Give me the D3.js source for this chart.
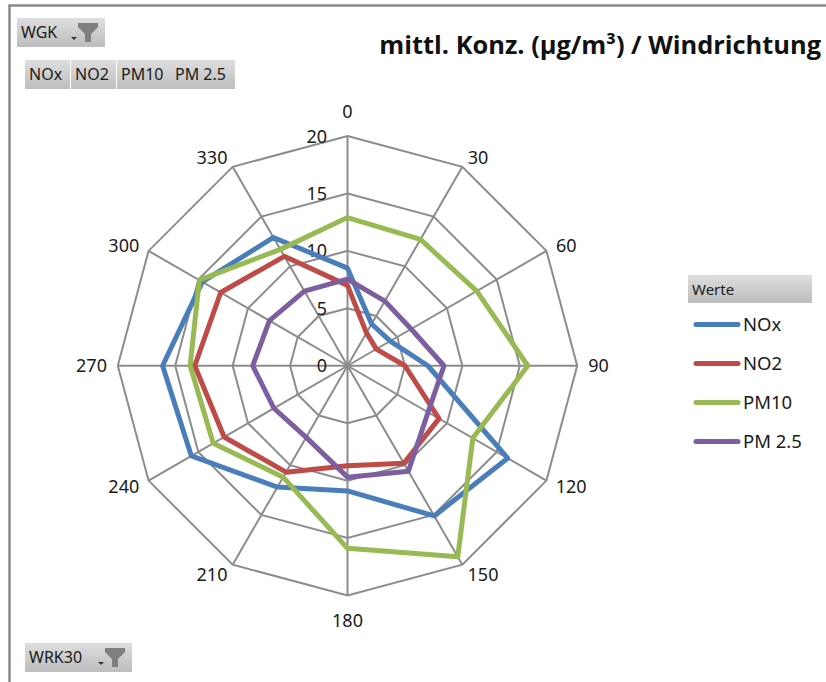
<!DOCTYPE html>
<html><head><meta charset="utf-8">
<script src="https://cdnjs.cloudflare.com/ajax/libs/d3/7.8.5/d3.min.js"></script>
<style>html,body{margin:0;padding:0;background:#fff}svg{display:block}text{font-family:"Noto Sans","Open Sans",sans-serif;fill:#1a1a1a}</style>
</head><body><div id="c"></div>
<script>
const directions=[0,30,60,90,120,150,180,210,240,270,300,330];
const radialTicks=[0,5,10,15,20];
const seriesNames=["NOx","NO2","PM10","PM 2.5"];
const colors=["#4a7ebb","#be4b48","#98b954","#7d5fa0"];
const NOx=[8.5,4.2,4.3,7.0,16.1,15.1,10.9,12.2,15.7,16.1,14.6,12.9];
const NO2=[7,3.3,2.9,5,9.2,9.8,8.7,10.7,12.4,13.3,12.75,11];
const PM10=[12.9,12.7,13,15.7,12.6,19.2,15.9,11.2,13.5,13.7,14.9,11.7];
const PM25=[7.55,6.5,6.4,8.4,8.1,10.6,9.7,7.2,7.4,8.25,7.85,7.5];
const seriesValues=[NOx,NO2,PM10,PM25];
const filterTop=["NOx","NO2","PM10","PM 2.5"];

const W=826,H=682,cx=347.5,cy=365.75,R=229.7;
const svg=d3.select("#c").append("svg").attr("width",W).attr("height",H);
const defs=svg.append("defs");
const g=defs.append("linearGradient").attr("id","btn").attr("x1",0).attr("y1",0).attr("x2",0).attr("y2",1);
g.append("stop").attr("offset","0").attr("stop-color","#dedede");
g.append("stop").attr("offset","1").attr("stop-color","#bdbdbd");

// frame
svg.append("path").attr("d",`M9.5,${H}V5.5H${W}`).attr("fill","none").attr("stroke","#8a8a8a").attr("stroke-width",2.5);

const r=d3.scaleLinear().domain([0,20]).range([0,R]);
const ang=d3.scaleLinear().domain([0,360]).range([0,2*Math.PI]);
const plot=svg.append("g").attr("transform",`translate(${cx},${cy})`);
const pt=(d,v)=>[r(v)*Math.sin(ang(d)),-r(v)*Math.cos(ang(d))];

// rings
const ringLine=d3.lineRadial().angle(d=>ang(d)).curve(d3.curveLinearClosed);
radialTicks.slice(1).forEach(t=>{
  plot.append("path").attr("d",ringLine.radius(()=>r(t))(directions)).attr("fill","none").attr("stroke","#8c8c8c").attr("stroke-width",2);
});
// spokes
plot.selectAll("line.spoke").data(directions).join("line").attr("class","spoke")
  .attr("x1",0).attr("y1",0)
  .attr("x2",d=>pt(d,20)[0]).attr("y2",d=>pt(d,20)[1])
  .attr("stroke","#8c8c8c").attr("stroke-width",2);

// radial tick labels
plot.selectAll("text.rt").data(radialTicks).join("text").attr("class","rt")
  .attr("x",-20.5).attr("y",d=>-r(d)+6.5)
  .attr("text-anchor","end").attr("font-size",18).text(d=>d);

// direction labels
const lblR=241;
plot.selectAll("text.dir").data(directions).join("text").attr("class","dir")
  .attr("x",d=>{const s=Math.sin(ang(d));return lblR*s+(d%180===0?0:Math.sign(s)*(d>=100?15:10));})
  .attr("y",d=>{const c=Math.cos(ang(d));return -lblR*c-(d%180===0?Math.sign(c)*13.5:0)+6.5;})
  .attr("text-anchor","middle").attr("font-size",18).text(d=>d);

// series
const line=d3.lineRadial().angle((d,i)=>ang(directions[i])).radius(d=>r(d)).curve(d3.curveLinearClosed);
plot.selectAll("path.s").data(seriesValues).join("path").attr("class","s")
  .attr("d",d=>line(d)).attr("fill","none")
  .attr("stroke",(d,i)=>colors[i]).attr("stroke-width",5).attr("stroke-linejoin","round");

// title
svg.append("text").attr("x",821).attr("y",54).attr("text-anchor","end")
  .style("font-family",'"Open Sans",sans-serif')
  .attr("font-size",25.4).attr("font-weight",700).style("fill","#111").text("mittl. Konz. (µg/m³) / Windrichtung");

// buttons
function btn(x,y,w,h,label,fs){
  svg.append("rect").attr("x",x).attr("y",y).attr("width",w).attr("height",h).attr("fill","url(#btn)");
  svg.append("text").attr("x",x+4).attr("y",y+h/2+5.5).attr("font-size",fs).text(label);
}
function funnel(x,y){
  const f=svg.append("g").attr("transform",`translate(${x},${y})`);
  f.append("path").attr("d","M-6,5H0L-3,8Z").attr("fill","#333");
  f.append("path").attr("d","M1,-9H21V-5L14,2V10H8V2L1,-5Z").attr("fill","#7f7f7f");
}
btn(17,18,88,29,"WGK",16); funnel(77,32);
const tops=[[25,45],[71,45],[117,54],[171,64]];
filterTop.forEach((t,i)=>btn(tops[i][0],60,tops[i][1],29,t,16));
btn(25,643,107,29,"WRK30",16); funnel(104,657);

// legend
btn(688,275,124,28,"Werte",15);
seriesNames.forEach((n,i)=>{
  const y=324.5+i*39;
  svg.append("line").attr("x1",696).attr("x2",738).attr("y1",y).attr("y2",y)
    .attr("stroke",colors[i]).attr("stroke-width",5).attr("stroke-linecap","round");
  svg.append("text").attr("x",743).attr("y",y+6.5).attr("font-size",18.5).text(n);
});
</script></body></html>
